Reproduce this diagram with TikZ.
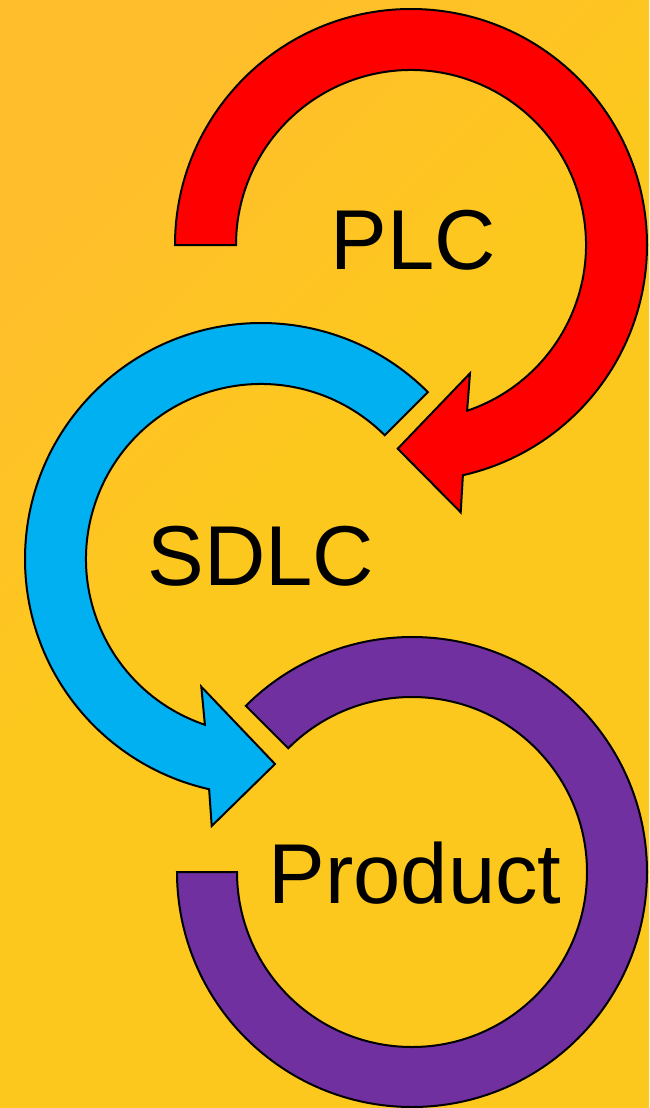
\documentclass[tikz,border=0pt]{standalone}
\usepackage{fontspec}
\setmainfont{Liberation Sans}
\usetikzlibrary{calc}
\definecolor{bgA}{RGB}{255,190,44}
\definecolor{bgB}{RGB}{253,200,30}
\definecolor{plcred}{RGB}{255,0,0}
\definecolor{sdlcblue}{RGB}{0,176,240}
\definecolor{prodpurple}{RGB}{112,48,160}
\pgfdeclarehorizontalshading{bgshade}{100bp}{color(0bp)=(bgA); color(25bp)=(bgA); color(45bp)=(bgB); color(100bp)=(bgB)}
\begin{document}
\begin{tikzpicture}[x=1pt,y=-1pt,
  band/.style={draw=black, line width=2pt, line join=miter, miter limit=10},
  lbl/.style={font=\fontsize{85}{100}\selectfont, anchor=base, inner sep=0pt, text=black}]
\useasboundingbox (0,0) rectangle (649,1108);
\fill[shading=bgshade, shading angle=-45] (0,0) rectangle (649,1108);
% centres
\coordinate (rc) at (411,245);
\coordinate (bc) at (261,559);
\coordinate (pc) at (412,872);
% red circular arrow
\coordinate (rtip) at (397.7,448.7);
\coordinate (rbarbA) at (470,373.3);
\coordinate (rbarbB) at (460.7,512.3);
\draw[band, fill=plcred] ($(rc)+(180:236)$) arc[start angle=180, end angle=437.3, radius=236]
  -- (rbarbB) -- (rtip) -- (rbarbA) -- ($(rc)+(431.3:175)$)
  arc[start angle=431.3, end angle=180, radius=175] -- cycle;
% blue circular arrow
\coordinate (btip) at (275,764);
\coordinate (bbarbA) at (201.3,686.7);
\coordinate (bbarbB) at (211.7,826);
\draw[band, fill=sdlcblue] ($(bc)+(315:236)$) arc[start angle=315, end angle=102.7, radius=236]
  -- (bbarbB) -- (btip) -- (bbarbA) -- ($(bc)+(108.7:175)$)
  arc[start angle=108.7, end angle=315, radius=175] -- cycle;
% purple ring segment
\draw[band, fill=prodpurple] ($(pc)+(180:235)$) arc[start angle=180, end angle=-135, radius=235]
  -- ($(pc)+(-135:175)$) arc[start angle=-135, end angle=180, radius=175] -- cycle;
% labels
\node[lbl] (plc) at (413,269) {PLC};
\node[lbl] (sdlc) at (261,585.5) {SDLC};
\node[lbl] (product) at (415,903) {Product};
\end{tikzpicture}
\end{document}
